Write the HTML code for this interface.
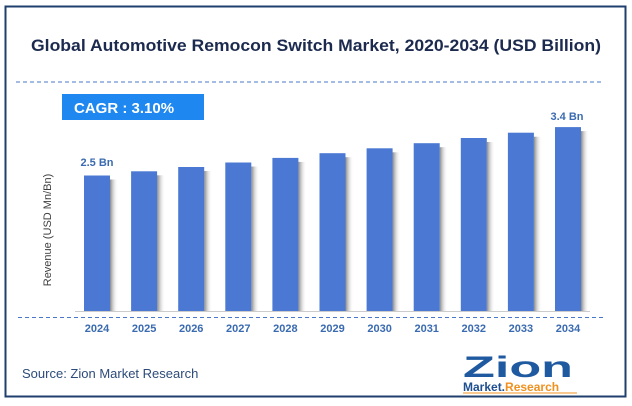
<!DOCTYPE html>
<html><head><style>
body{margin:0;width:632px;height:401px;background:#fff;overflow:hidden;font-family:"Liberation Sans",sans-serif}
</style></head><body>
<svg width="632" height="401" xmlns="http://www.w3.org/2000/svg" font-family="Liberation Sans, sans-serif">
<defs><linearGradient id="sh" x1="0" x2="1"><stop offset="0" stop-color="#888"/><stop offset="1" stop-color="#fff" stop-opacity="0"/></linearGradient></defs>
<rect x="5.5" y="6.5" width="620" height="390" fill="#fff" stroke="#1f3f6e" stroke-width="2"/>
<text x="316" y="51" text-anchor="middle" font-size="17" font-weight="bold" fill="#1b2a4e" textLength="570" lengthAdjust="spacingAndGlyphs">Global Automotive Remocon Switch Market, 2020-2034 (USD Billion)</text>
<line x1="16" y1="82" x2="604" y2="82" stroke="#4a78c8" stroke-dasharray="4,3"/>
<rect x="62" y="94" width="142" height="26" fill="#1e88f0"/>
<text x="74" y="113" font-size="15" font-weight="bold" fill="#fff">CAGR :  3.10%</text>
<g fill="url(#sh)">
<rect x="110" y="179.5" width="8" height="131.5"/>
<rect x="157.1" y="175.3" width="8" height="135.7"/>
<rect x="204.2" y="171" width="8" height="140"/>
<rect x="251.3" y="166.5" width="8" height="144.5"/>
<rect x="298.4" y="161.9" width="8" height="149.1"/>
<rect x="345.5" y="157.2" width="8" height="153.8"/>
<rect x="392.6" y="152.3" width="8" height="158.7"/>
<rect x="439.7" y="147.2" width="8" height="163.8"/>
<rect x="486.8" y="142" width="8" height="169"/>
<rect x="533.9" y="136.7" width="8" height="174.3"/>
<rect x="581" y="131.1" width="8" height="179.9"/>
</g>
<g fill="#4a78d2">
<rect x="84" y="175.5" width="26" height="135.5"/>
<rect x="131.1" y="171.3" width="26" height="139.7"/>
<rect x="178.2" y="167" width="26" height="144"/>
<rect x="225.3" y="162.5" width="26" height="148.5"/>
<rect x="272.4" y="157.9" width="26" height="153.1"/>
<rect x="319.5" y="153.2" width="26" height="157.8"/>
<rect x="366.6" y="148.3" width="26" height="162.7"/>
<rect x="413.7" y="143.2" width="26" height="167.8"/>
<rect x="460.8" y="138" width="26" height="173"/>
<rect x="507.9" y="132.7" width="26" height="178.3"/>
<rect x="555" y="127.1" width="26" height="183.9"/>
</g>
<g font-size="11" font-weight="bold" fill="#3a6ab0" text-anchor="middle">
<text x="97" y="332">2024</text>
<text x="144.1" y="332">2025</text>
<text x="191.2" y="332">2026</text>
<text x="238.3" y="332">2027</text>
<text x="285.4" y="332">2028</text>
<text x="332.5" y="332">2029</text>
<text x="379.6" y="332">2030</text>
<text x="426.7" y="332">2031</text>
<text x="473.8" y="332">2032</text>
<text x="520.9" y="332">2033</text>
<text x="568" y="332">2034</text>
</g>
<line x1="75" y1="311.5" x2="590" y2="311.5" stroke="#ccc"/>
<line x1="18" y1="317.5" x2="606" y2="317.5" stroke="#4a78c8" stroke-dasharray="4,3"/>
<text x="97" y="166" text-anchor="middle" font-size="11" font-weight="bold" fill="#3a6ab0">2.5 Bn</text>
<text x="567" y="120" text-anchor="middle" font-size="11" font-weight="bold" fill="#3a6ab0">3.4 Bn</text>
<text transform="translate(51,230) rotate(-90)" text-anchor="middle" font-size="11" fill="#404040">Revenue (USD Mn/Bn)</text>
<text x="22" y="378" font-size="13" fill="#2d4b7a">Source: Zion Market Research</text>
<text x="463" y="377" font-size="30" font-weight="bold" fill="#1f5aa0" textLength="110" lengthAdjust="spacingAndGlyphs">Zion</text>
<text x="463" y="391" font-size="12" font-weight="bold" fill="#1f4f90">Market.<tspan fill="#f0901e">Research</tspan></text>
<line x1="463" y1="393" x2="577" y2="393" stroke="#f0901e"/>
</svg>
</body></html>
